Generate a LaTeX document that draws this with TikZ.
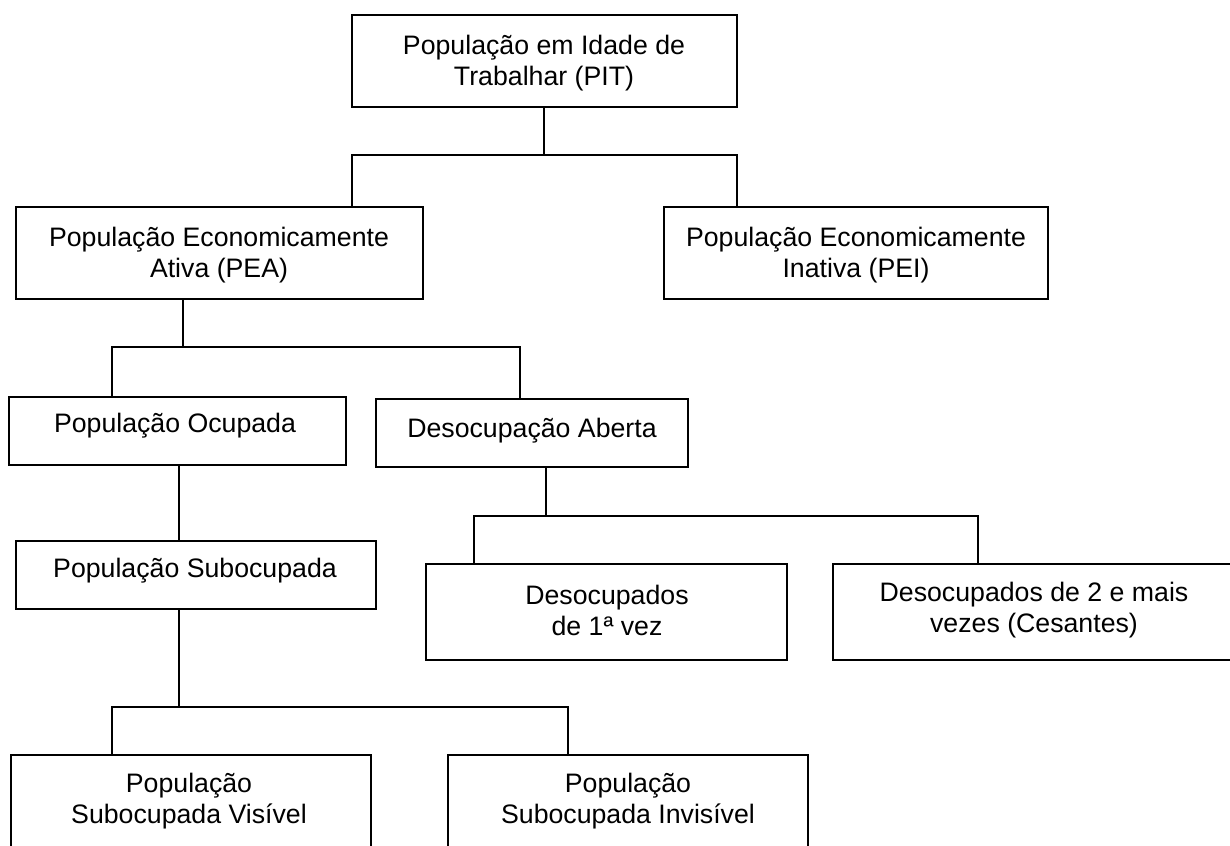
\documentclass[tikz,border=0pt]{standalone}
\usepackage{fontspec}
\setmainfont{Liberation Sans}
\begin{document}
\begin{tikzpicture}[x=1pt,y=-1pt,
  box/.style={draw=black,line width=2pt,rectangle,inner sep=0pt,fill=white},
  txt/.style={align=center,inner sep=0pt,font=\fontsize{26.7}{31}\selectfont},
  wire/.style={draw=black,line width=1.6pt}]
\clip (0,0) rectangle (1230,845);
\fill[white] (0,0) rectangle (1230,845);
% boxes
\node[box,minimum width=385pt,minimum height=92pt] (pit) at (544.5,61) {};
\node[box,minimum width=407pt,minimum height=92pt] (pea) at (219.5,253) {};
\node[box,minimum width=384pt,minimum height=92pt] (pei) at (856,253) {};
\node[box,minimum width=337pt,minimum height=68pt] (ocup) at (177.5,431) {};
\node[box,minimum width=312pt,minimum height=68pt] (desab) at (532,433) {};
\node[box,minimum width=360pt,minimum height=68pt] (subo) at (196,575) {};
\node[box,minimum width=361pt,minimum height=96pt] (des1) at (606.5,612) {};
\node[box,minimum width=402pt,minimum height=96pt] (des2) at (1034,612) {};
\node[box,minimum width=360pt,minimum height=140pt] (vis) at (191,825) {};
\node[box,minimum width=360pt,minimum height=140pt] (invis) at (628,825) {};
% texts
\node[txt] (tpit) at (544,63) {População em Idade de\\Trabalhar (PIT)};
\node[txt] (tpea) at (219,255) {População Economicamente\\Ativa (PEA)};
\node[txt] (tpei) at (856,255) {População Economicamente\\Inativa (PEI)};
\node[txt] (tocup) at (175,425.5) {População Ocupada};
\node[txt] (tdesab) at (532,430.5) {Desocupação Aberta};
\node[txt] (tsubo) at (195,570.5) {População Subocupada};
\node[txt] (tdes1) at (607,610.5) {Desocupados\\de 1ª vez};
\node[txt] (tdes2) at (1034,610) {Desocupados de 2 e mais\\vezes (Cesantes)};
\node[txt] (tvis) at (189,801.5) {População\\Subocupada Visível};
\node[txt] (tinvis) at (628,801.5) {População\\Subocupada Invisível};
% junction coordinates
\coordinate (j1) at (544,155);
\coordinate (j1l) at (352,155);
\coordinate (j1r) at (737,155);
\coordinate (j2) at (183,347);
\coordinate (j2l) at (112,347);
\coordinate (j2r) at (520,347);
\coordinate (j3) at (179,0);
\coordinate (j4) at (546,516);
\coordinate (j4l) at (474,516);
\coordinate (j4r) at (978,516);
\coordinate (j5) at (179,707);
\coordinate (j5l) at (112,707);
\coordinate (j5r) at (568,707);
% connectors
\draw[wire] (pit.south -| j1) -- (j1);
\draw[wire] (pea.north -| j1l) -- (j1l) -- (j1r) -- (pei.north -| j1r);
\draw[wire] (pea.south -| j2) -- (j2);
\draw[wire] (ocup.north -| j2l) -- (j2l) -- (j2r) -- (desab.north -| j2r);
\draw[wire] (ocup.south -| j3) -- (subo.north -| j3);
\draw[wire] (desab.south -| j4) -- (j4);
\draw[wire] (des1.north -| j4l) -- (j4l) -- (j4r) -- (des2.north -| j4r);
\draw[wire] (subo.south -| j5) -- (j5);
\draw[wire] (vis.north -| j5l) -- (j5l) -- (j5r) -- (invis.north -| j5r);
\end{tikzpicture}
\end{document}
